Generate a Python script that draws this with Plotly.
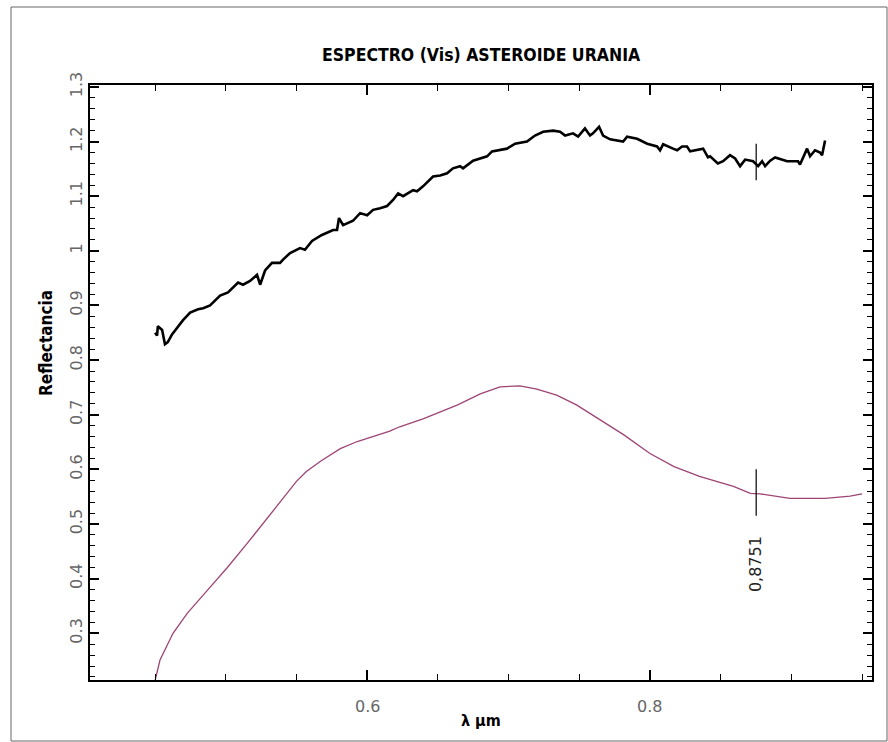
import plotly.graph_objects as go

# ---------------- data ----------------
black_x = [0.4500, 0.4514, 0.4520, 0.4550, 0.4570, 0.4590, 0.4620, 0.4656, 0.4698, 0.4748,
           0.4780, 0.4804, 0.4840, 0.4889, 0.4960, 0.5016, 0.5087, 0.5122, 0.5172, 0.5221,
           0.5243, 0.5278, 0.5327, 0.5384, 0.5405, 0.5455, 0.5525, 0.5560, 0.5610, 0.5680,
           0.5759, 0.5787, 0.5801, 0.5830, 0.5900, 0.5950, 0.6000, 0.6042, 0.6091, 0.6141,
           0.6183, 0.6219, 0.6254, 0.6325, 0.6353, 0.6395, 0.6466, 0.6516, 0.6565, 0.6607,
           0.6657, 0.6678, 0.6749, 0.6798, 0.6848, 0.6883, 0.6940, 0.6989, 0.7046, 0.7095,
           0.7130, 0.7187, 0.7244, 0.7315, 0.7364, 0.7400, 0.7456, 0.7492, 0.7540, 0.7576,
           0.7597, 0.7640, 0.7668, 0.7718, 0.7789, 0.7810, 0.7838, 0.7909, 0.7980, 0.8050,
           0.8071, 0.8093, 0.8163, 0.8192, 0.8227, 0.8262, 0.8284, 0.8376, 0.8410, 0.8425,
           0.8480, 0.8517, 0.8566, 0.8602, 0.8637, 0.8673, 0.8729, 0.8765, 0.8793, 0.8814,
           0.8850, 0.8885, 0.8970, 0.9047, 0.9061, 0.9111, 0.9132, 0.9167, 0.9203, 0.9217,
           0.9238]
black_y = [0.850, 0.845, 0.862, 0.855, 0.829, 0.833, 0.847, 0.860, 0.873, 0.887,
           0.891, 0.893, 0.895, 0.900, 0.918, 0.924, 0.942, 0.938, 0.945, 0.956,
           0.938, 0.964, 0.978, 0.978, 0.984, 0.996, 1.005, 1.002, 1.018, 1.029,
           1.038, 1.038, 1.060, 1.047, 1.055, 1.069, 1.065, 1.075, 1.078, 1.082,
           1.093, 1.105, 1.100, 1.111, 1.109, 1.118, 1.136, 1.138, 1.142, 1.151,
           1.155, 1.151, 1.165, 1.169, 1.173, 1.182, 1.184, 1.187, 1.196, 1.198,
           1.200, 1.211, 1.218, 1.220, 1.218, 1.211, 1.215, 1.209, 1.224, 1.211,
           1.215, 1.227, 1.211, 1.204, 1.200, 1.200, 1.209, 1.205, 1.196, 1.191,
           1.184, 1.195, 1.187, 1.184, 1.191, 1.191, 1.182, 1.187, 1.171, 1.173,
           1.160, 1.164, 1.175, 1.169, 1.155, 1.167, 1.164, 1.155, 1.164, 1.155,
           1.165, 1.171, 1.164, 1.164, 1.158, 1.187, 1.173, 1.184, 1.180, 1.175,
           1.202]

pink_x = [0.4497, 0.4535, 0.4627, 0.4726, 0.4868, 0.5010, 0.5150, 0.5240, 0.5340, 0.5430,
          0.5500, 0.5570, 0.5670, 0.5810, 0.5930, 0.6040, 0.6160, 0.6230, 0.6400, 0.6640,
          0.6800, 0.6940, 0.7080, 0.7200, 0.7340, 0.7480, 0.7630, 0.7810, 0.8000, 0.8170,
          0.8350, 0.8470, 0.8590, 0.8710, 0.8780, 0.8990, 0.9240, 0.9415, 0.9500]
pink_y = [0.210, 0.251, 0.300, 0.336, 0.378, 0.420, 0.464, 0.493, 0.524, 0.555,
          0.578, 0.596, 0.615, 0.638, 0.651, 0.660, 0.670, 0.678, 0.693, 0.718,
          0.738, 0.751, 0.753, 0.747, 0.736, 0.718, 0.693, 0.664, 0.629, 0.605,
          0.587, 0.578, 0.569, 0.556, 0.555, 0.547, 0.547, 0.551, 0.555]

marker_x = 0.8751
marker_label = "0,8751"
marker_black_y = [1.129, 1.196]
marker_pink_y = [0.515, 0.600]
marker_label_y = 0.427

x_range = [0.404, 0.957]
y_range = [0.2145, 1.3035]
x_label_vals = [0.6, 0.8]
x_label_text = ["0.6", "0.8"]

title_text = "ESPECTRO (Vis) ASTEROIDE URANIA"
x_title = "λ µm"
y_title = "Reflectancia"

# ---------------- figure ----------------
COND = "DejaVu Sans Condensed, Liberation Sans Narrow, DejaVu Sans, sans-serif"
TICKFONT = dict(family="DejaVu Sans, sans-serif", size=16, color="#666666")

fig = go.Figure()
fig.add_trace(go.Scatter(x=pink_x, y=pink_y, mode="lines",
                         line=dict(color="#9e4475", width=1.3), hoverinfo="skip"))
fig.add_trace(go.Scatter(x=black_x, y=black_y, mode="lines",
                         line=dict(color="#000000", width=2.6), hoverinfo="skip"))
fig.add_trace(go.Scatter(x=[marker_x, marker_x], y=marker_black_y, mode="lines",
                         line=dict(color="#000000", width=1.2), hoverinfo="skip"))
fig.add_trace(go.Scatter(x=[marker_x, marker_x], y=marker_pink_y, mode="lines",
                         line=dict(color="#000000", width=1.2), hoverinfo="skip"))

fig.add_annotation(x=marker_x, y=marker_label_y, xref="x", yref="y", text=marker_label,
                   showarrow=False, textangle=-90,
                   font=dict(family="DejaVu Sans, sans-serif", size=16, color="#222222"))

# x tick labels (placed below the inside ticks)
for v, t in zip(x_label_vals, x_label_text):
    fig.add_annotation(x=v, y=0, xref="x", yref="paper", yanchor="top", yshift=-15,
                       text=t, showarrow=False, font=TICKFONT)

# titles
fig.add_annotation(x=0.5, y=1.0, xref="paper", yref="paper", yshift=30, text="<b>%s</b>" % title_text,
                   showarrow=False, yanchor="middle",
                   font=dict(family=COND, size=17.5, color="#000000"))
fig.add_annotation(x=0.5, y=0.0, xref="paper", yref="paper", yshift=-40, text="<b>%s</b>" % x_title,
                   showarrow=False, yanchor="middle",
                   font=dict(family=COND, size=16, color="#000000"))
fig.add_annotation(x=0.0, y=(680 - 343) / 595, xref="paper", yref="paper", xshift=-44,
                   text="<b>%s</b>" % y_title,
                   showarrow=False, xanchor="center", yanchor="middle", textangle=-90,
                   font=dict(family=COND, size=17, color="#000000"))

# outer frame
fig.add_shape(type="rect", xref="paper", yref="paper",
              x0=(11 - 90) / 782, x1=(887 - 90) / 782,
              y0=(680 - 741) / 595, y1=(680 - 7) / 595,
              line=dict(color="#666666", width=1), layer="below")

fig.update_layout(
    width=888, height=742,
    margin=dict(l=90, r=16, t=85, b=62),
    paper_bgcolor="white", plot_bgcolor="white",
    showlegend=False,
    xaxis=dict(range=x_range, tickmode="linear", tick0=0.0, dtick=0.2,
               ticks="inside", ticklen=10, tickwidth=1.5, tickcolor="black",
               showline=True, linecolor="black", linewidth=2, mirror="allticks",
               showgrid=False, zeroline=False, showticklabels=False,
               minor=dict(tick0=0.0, dtick=0.05, ticks="inside", ticklen=6,
                          tickwidth=1.2, tickcolor="black", showgrid=False)),
    yaxis=dict(range=y_range, tickmode="linear", tick0=0.0, dtick=0.1,
               ticks="inside", ticklen=9, tickwidth=1.5, tickcolor="black",
               showline=True, linecolor="black", linewidth=2, mirror="allticks",
               showgrid=False, zeroline=False, tickfont=TICKFONT, tickangle=-90,
               minor=dict(tick0=0.0, dtick=0.02, ticks="inside", ticklen=5,
                          tickwidth=1.2, tickcolor="black", showgrid=False)),
)

fig.write_html("out.html")
